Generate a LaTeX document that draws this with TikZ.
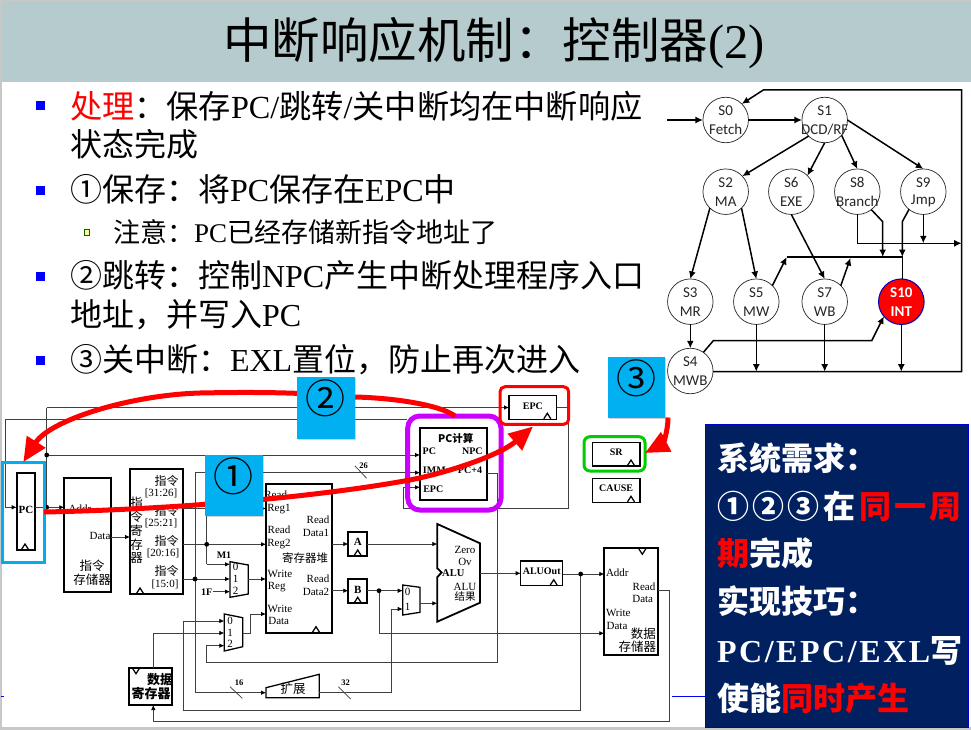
\documentclass[tikz,border=0pt]{standalone}
\usepackage{fontspec}
\setmainfont{Liberation Serif}
\newfontfamily\cjk{Noto Sans CJK SC}
\newfontfamily\calib{Carlito}
\usetikzlibrary{arrows.meta,fit,shadows}
\definecolor{hdr}{HTML}{B5CBCD}
\definecolor{frm}{HTML}{C8C8C8}
\definecolor{cyn}{HTML}{00B0F0}
\definecolor{ringcyan}{HTML}{00AEEF}
\definecolor{navy}{HTML}{002060}
\definecolor{purp}{HTML}{CC00FF}
\definecolor{wirec}{HTML}{404040}
\newcommand\zh[1]{{\cjk #1}}
\newcommand\fs[1]{\fontsize{#1}{#1}\selectfont}
\newcounter{lb}
\newcommand\dplab[4][]{\stepcounter{lb}\node[tx,#1] (lb\arabic{lb}) at (#2,#3) {#4};}
\newcommand\bx[7]{\node[#1,fit={(#3,#4)(#5,#6)}] (#2) {#7};}
\newcommand\stn[6][stlab]{\node[stc] (#2) at (#3,#4) {};\node[#1] (#2a) at ([yshift=9.5pt]#2.center) {#5};\node[#1] (#2b) at ([yshift=-9.5pt]#2.center) {#6};}
\newcommand\ckup[2]{\draw[ck,shift={(#1,#2)}] (-3.5,-.5) -- (0,-6) -- (3.5,-.5);}
\newcommand\ckdn[2]{\draw[ck,shift={(#1,#2)}] (-3.5,.5) -- (0,6) -- (3.5,.5);}
\newcommand\dotat[2]{\fill[black] (#1,#2) circle (2.4);}
\tikzset{
 tx/.style={inner sep=0,outer sep=0,align=center,font=\fs{11},text=black},
 bd/.style={tx,font=\fs{10}\bfseries},
 reg/.style={draw=black,line width=1.9pt,inner sep=0,outer sep=0,font=\fs{10}\bfseries,align=center},
 thinreg/.style={reg,line width=1.5pt},
 ghost/.style={inner sep=0,outer sep=0},
 wire/.style={draw=wirec,line width=.75pt},
 warr/.style={wire,-{Latex[length=5pt,width=4.5pt,color=black]}},
 ck/.style={draw=black,line width=1.25pt},
 line/.style={draw=black,line width=1.5pt},
 larr/.style={line,-{Latex[length=7.5pt,width=7pt]}},
 stc/.style={circle,draw=black!85,line width=.7pt,fill=white,minimum size=45.5pt,inner sep=0,outer sep=0},
 stlab/.style={inner sep=0,outer sep=0,font=\calib\fs{15},text=black!85},
 stlabw/.style={inner sep=0,outer sep=0,font=\calib\bfseries\fs{15},text=white},
 body/.style={anchor=base west,inner sep=0,outer sep=0,font=\cjk\fs{32},text=black},
 bul/.style={fill=blue,minimum size=9pt,inner sep=0,outer sep=0},
 pan/.style={anchor=base west,inner sep=0,outer sep=0,font=\cjk\bfseries\fs{32},text=white},
 cbox/.style={fill=cyn,inner sep=0,outer sep=0,font=\cjk\fs{40},text=black,drop shadow={shadow xshift=1pt,shadow yshift=-1pt,opacity=.35}},
 redarr/.style={draw=red,line width=5pt,-{Triangle[length=24pt,width=21pt]}},
 ring/.style={draw=#1,line width=3pt,rounded corners=6pt,inner sep=0,outer sep=0}
}
\begin{document}
\begin{tikzpicture}[x=1pt,y=-1pt]
\useasboundingbox (0,0) rectangle (971,730);
\fill[frm] (0,0) rectangle (971,730);
\fill[white] (1.5,1) rectangle (971,727);
\fill[hdr] (1.5,1) rectangle (971,82.5);
\node[anchor=base,inner sep=0,font=\fs{48.5}] (title) at (494,59) {\zh{中断响应机制：控制器}(2)};
% left text
\node[bul] (b1) at (40.5,105.5) {};
\node[bul] (b2) at (40.5,190.5) {};
\node[bul] (b3) at (40.5,276) {};
\node[bul] (b4) at (40.5,360) {};
\node[draw=black!60!green,fill=yellow!40,minimum size=5.5pt,inner sep=0,line width=.7pt] (b5) at (87,232.5) {};
\node[body,font=\cjk\fs{32.2}] (t1) at (70,119) {\textcolor{red}{处理}：保存{\rmfamily PC/}跳转{\rmfamily /}关中断均在中断响应};
\node[body] (t2) at (70,157) {状态完成};
\node[body] (t3) at (70,201) {①保存：将{\rmfamily PC}保存在{\rmfamily EPC}中};
\node[body,font=\cjk\fs{27}] (t4) at (113,242.5) {注意：{\rmfamily PC}已经存储新指令地址了};
\node[body] (t5) at (70,287) {②跳转：控制{\rmfamily NPC}产生中断处理程序入口};
\node[body] (t6) at (70,326) {地址，并写入{\rmfamily PC}};
\node[body] (t7) at (70,371) {③关中断：{\rmfamily EXL}置位，防止再次进入};
% datapath boxes
\bx{reg}{pc}{16.7}{472.7}{35.3}{550}{\raisebox{-3.4pt}{\fs{11}PC}}
\bx{reg}{im}{64.3}{478.3}{111}{591.7}{}
\bx{reg}{ir}{130}{469}{183.3}{594}{}
\bx{reg}{rf}{266}{484.3}{331.7}{632.7}{}
\bx{reg}{dr}{129.3}{667.7}{172}{705}{}
\bx{reg}{ra}{348.3}{531.7}{367.3}{556}{\raisebox{-3.6pt}{\fs{11}A}}
\bx{reg}{rb}{348.3}{579.3}{367.3}{603.3}{\raisebox{-3.6pt}{\fs{11}B}}
\bx{thinreg}{aluo}{520.7}{561}{562.7}{585.7}{\raisebox{-3.2pt}{ALUOut}}
\bx{reg}{dm}{604.3}{548.3}{658.3}{655}{}
\bx{reg}{pcc}{420}{428.3}{486.7}{500}{}
\bx{thinreg}{epc}{509}{395.7}{556.7}{419.3}{\raisebox{-3.2pt}{EPC}}
\bx{thinreg}{sr}{592.3}{442.3}{640}{466}{\raisebox{-2.8pt}{SR}}
\bx{thinreg}{cause}{592.3}{478.3}{640}{502.3}{\raisebox{-3pt}{CAUSE}}
\bx{ghost}{m1}{230}{561.7}{248.3}{597.3}{}
\bx{ghost}{m2}{224.3}{614}{242.7}{651}{}
\bx{ghost}{m3}{402.7}{585}{420}{615}{}
\bx{ghost}{alu}{437.3}{524}{480}{621.7}{}
\bx{ghost}{ext}{266}{674.3}{319.3}{697.7}{}
\draw[line width=1.3pt] (230,561.7)--(248.3,565)--(248.3,594)--(230,597.3)--cycle;
\draw[line width=1.3pt] (224.3,614)--(242.7,617.7)--(242.7,646.7)--(224.3,651)--cycle;
\draw[line width=1.3pt] (402.7,585)--(420,587.3)--(420,612.3)--(402.7,615)--cycle;
\draw[line width=1.8pt] (437.3,524)--(480,543.3)--(480,602.7)--(437.3,621.7)--(437.3,577)--(441.7,572.5)--(437.3,568.3)--cycle;
\draw[line width=1.3pt] (266,687.7)--(319.3,674.3)--(319.3,697.7)--(266,697.7)--cycle;
% clocks
\ckup{25}{550}\ckup{140}{594}\ckup{316}{632.7}\ckup{547.3}{419.3}\ckup{631}{466}\ckup{631}{502.3}
\ckup{357.7}{556}\ckup{357.7}{603.3}\ckup{553.7}{585.7}\ckdn{642.3}{548.3}\ckdn{136}{667.7}
% wires
\coordinate (ja) at (46.7,507.3);
\coordinate (jb) at (46.7,455);
\coordinate (jt) at (46.7,407.5);
\coordinate (jl) at (5.3,419.3);
\draw[wire] (pc.east |- ja) -- (ja);
\draw[warr] (ja) -- (im.west |- ja);
\draw[wire] (ja) -- (jt);
\draw[warr] (jt) -- (epc.west |- jt);
\draw[warr] (jb) -- (pcc.west |- jb);
\draw[warr] (jl) -- (jl |- ja) -- (pc.west |- ja);
\draw[warr] (im.east |- 0,537) -- (ir.west |- 0,537);
\coordinate (j195t) at (195,472.7);
\coordinate (j195b) at (195,692.7);
\coordinate (j207) at (206.7,544.3);
\draw[warr] (ir.east |- 0,508.5) -- (rf.west |- 0,508.5);
\draw[wire] (206.7,508.5) -- (206.7,564.3);
\draw[warr] (206.7,564.3) -- (m1.west |- 0,564.3);
\draw[warr] (ir.east |- j207) -- (rf.west |- j207);
\draw[warr] (ir.east |- 0,579) -- (m1.west |- 0,579);
\draw[warr] (213.3,591.7) -- (m1.west |- 0,591.7);
\draw[wire] (j195t) -- (j195b);
\draw[warr] (j195t) -- (pcc.west |- j195t);
\draw[warr] (j195b) -- (ext.west |- j195b);
\draw[warr] (m1.east |- 0,579) -- (rf.west |- 0,579);
\draw[warr] (m2.east |- 0,633) -- (250.7,633) -- (250.7,614) -- (rf.west |- 0,614);
\draw[warr] (183.3,710) -- (183.3,621) -- (m2.west |- 0,621);
\draw[wire] (183.3,710) -- (580.7,710) -- (580.7,574);
\draw[warr] (dr.north -| 153.3,0) -- (153.3,633) -- (m2.west |- 0,633);
\draw[warr] (pcc.east |- 0,473.3) -- (497.7,473.3) -- (497.7,662.7) -- (206.7,662.7) -- (206.7,645.7) -- (m2.west |- 0,645.7);
\draw[wire] (jl) -- (407,419.3);
\draw[warr] (epc.east |- 0,407.3) -- (568.7,407.3) -- (568.7,508) -- (403,508) -- (403,487.3) -- (pcc.west |- 0,487.3);
\draw[warr] (rf.east |- 0,544) -- (ra.west |- 0,544);
\draw[warr] (rf.east |- 0,590.7) -- (rb.west |- 0,590.7);
\draw[warr] (ra.east |- 0,544) -- (alu.west |- 0,544);
\draw[warr] (rb.east |- 0,590.7) -- (m3.west |- 0,590.7);
\draw[warr] (m3.east |- 0,603.3) -- (alu.west |- 0,603.3);
\draw[warr] (379,590.7) -- (379,633.3) -- (dm.west |- 0,633.3);
\draw[warr] (ext.east |- j195b) -- (391,692.7) -- (391,609) -- (m3.west |- 0,609);
\draw[warr] (alu.east |- 0,573.3) -- (aluo.west |- 0,573.3);
\draw[warr] (aluo.east |- 0,574) -- (dm.west |- 0,574);
\draw[wire] (dm.east |- 0,590.7) -- (669.3,590.7) -- (669.3,721.7) -- (153.3,721.7);
\draw[warr] (153.3,721.7) -- (dr.south -| 153.3,0);
\dotat{46.7}{507.3}\dotat{46.7}{455}\dotat{206.7}{544.3}\dotat{195}{579}\dotat{379}{590.7}\dotat{580.7}{574}
% slashes
\draw[wire] (355,466) -- (366.7,478.3);
\draw[wire] (230,686.7) -- (242.3,698.3);
\draw[wire] (338.3,686.7) -- (350.7,699);
% labels
\dplab[bd,font=\fs{8.5}\bfseries]{363.5}{466}{26}
\dplab[bd,font=\fs{8.5}\bfseries]{239}{683}{16}
\dplab[bd,font=\fs{8.5}\bfseries]{345.7}{683}{32}
\dplab{80}{509}{Addr}
\dplab{100}{535.7}{Data}
\dplab[font=\cjk\fs{12.5}]{92}{566}{指令}
\dplab[font=\cjk\fs{12.5}]{92}{580}{存储器}
\dplab[font=\cjk\fs{12}]{166.7}{480.7}{指令}
\dplab{161}{493}{[31:26]}
\dplab[font=\cjk\fs{12}]{166.7}{510.7}{指令}
\dplab{161}{523}{[25:21]}
\dplab[font=\cjk\fs{12}]{166.7}{540.7}{指令}
\dplab{163}{553}{[20:16]}
\dplab[font=\cjk\fs{12}]{166.7}{570.7}{指令}
\dplab{165}{584}{[15:0]}
\dplab[font=\cjk\fs{12.5}]{136.7}{502.7}{指}
\dplab[font=\cjk\fs{12.5}]{136.7}{517}{令}
\dplab[font=\cjk\fs{12.5}]{136.7}{531}{寄}
\dplab[font=\cjk\fs{12.5}]{136.7}{545}{存}
\dplab[font=\cjk\fs{12.5}]{136.7}{558.5}{器}
\dplab{275.7}{495}{Read}
\dplab{279}{509}{Reg1}
\dplab{279}{530}{Read}
\dplab{279}{543.7}{Reg2}
\dplab{280}{573.7}{Write}
\dplab{276.7}{586.7}{Reg}
\dplab{280}{608.7}{Write}
\dplab{278.7}{621.3}{Data}
\dplab{318}{520}{Read}
\dplab{316}{532.7}{Data1}
\dplab[font=\cjk\fs{11.5}]{305}{558}{寄存器堆}
\dplab{318}{579}{Read}
\dplab{316}{591.7}{Data2}
\dplab[bd,font=\fs{10}\bfseries]{224}{555}{M1}
\dplab[bd,font=\fs{10}\bfseries]{206.7}{591.7}{1F}
\dplab{235.7}{567.3}{0}
\dplab{235.7}{579.3}{1}
\dplab{235.7}{590.7}{2}
\dplab{230}{620.5}{0}
\dplab{230}{632.5}{1}
\dplab{230}{644}{2}
\dplab{407.7}{592.3}{0}
\dplab{407.7}{607.3}{1}
\dplab[font=\cjk\bfseries\fs{13}]{154}{679.5}{\hspace*{12pt}数据}
\dplab[font=\cjk\bfseries\fs{13}]{151}{694}{寄存器}
\dplab[font=\cjk\fs{12.5}]{293}{689}{扩展}
\dplab{465}{550}{Zero}
\dplab{465}{562.3}{Ov}
\dplab[bd,font=\fs{10.5}\bfseries]{453.3}{573.3}{ALU}
\dplab{465}{587.3}{ALU}
\dplab[font=\cjk\fs{10.5}]{465}{596.7}{结果}
\dplab{617.3}{572.3}{Addr}
\dplab{644}{586.7}{Read}
\dplab{642.7}{599.3}{Data}
\dplab{618.3}{613.3}{Write}
\dplab{617}{626}{Data}
\dplab[font=\cjk\fs{12.5}]{643.3}{633.3}{数据}
\dplab[font=\cjk\fs{12.5}]{637.3}{646.7}{存储器}
\dplab[bd,font=\cjk\bfseries\fs{10.5}]{455.7}{438.3}{PC计算}
\dplab[bd]{429.3}{451.7}{PC}
\dplab[bd]{472.3}{451.7}{NPC}
\dplab[bd]{434.3}{470.7}{IMM}
\dplab[bd]{470}{470.7}{PC+4}
\dplab[bd]{433.3}{489.3}{EPC}
% rings
\bx{ring=ringcyan,rounded corners=0pt}{pcring}{2.7}{462}{44}{562.7}{}
\bx{ring=purp,line width=5pt,rounded corners=12pt}{purple}{407.7}{416}{501}{510}{}
\bx{ring=red,rounded corners=5pt}{epcring}{500}{386.7}{568.7}{424.3}{}
\bx{ring=green!80!black}{srring}{584}{436.7}{645}{471}{}
% red arrows
\coordinate (r1a) at (533,426.5);
\coordinate (r1m) at (410,480);
\draw[redarr] (pcring.east |- 0,512) .. controls (150,510) and (300,500) .. (r1m) .. controls (450,472) and (500,455) .. (r1a);
\coordinate (r2m) at (355,397);
\coordinate (r2n) at (200,393);
\draw[redarr] (purple.north -| 455,0) .. controls (440,405) and (395,398) .. (r2m) .. controls (300,392) and (250,392) .. (r2n) .. controls (130,395) and (50,420) .. (pcring.north);
\coordinate (r3a) at (668,417.5);
\draw[redarr] (r3a) .. controls (668,433) and (662,444) .. (srring.east |- 0,453);
% cyan boxes
\bx{cbox}{c1}{205}{455}{262.7}{515.7}{\raisebox{-15pt}{①}}
\bx{cbox}{c2}{296.7}{377.3}{355}{439}{\raisebox{-15pt}{②}}
\bx{cbox}{c3}{608}{357}{665}{417.5}{\raisebox{-15pt}{③}}
% FSM
\stn{s0}{725.7}{120}{S0}{Fetch}
\stn{s1}{824.7}{120}{S1}{DCD/RF}
\stn{s2}{725.7}{191.7}{S2}{MA}
\stn{s6}{791.3}{191.7}{S6}{EXE}
\stn{s8}{857.3}{191.7}{S8}{Branch}
\stn{s9}{923.3}{191.7}{S9}{Jmp}
\stn{s3}{690.3}{301.7}{S3}{MR}
\stn{s5}{756.3}{301.7}{S5}{MW}
\stn{s7}{824.7}{301.7}{S7}{WB}
\node[stc,fill=red,draw=blue!70!black,line width=1pt,drop shadow={shadow xshift=.8pt,shadow yshift=-.8pt,opacity=.4}] (s10) at (901.3,301.7) {};
\node[stlabw] (s10a) at ([yshift=9.5pt]s10.center) {S10};
\node[stlabw] (s10b) at ([yshift=-9.5pt]s10.center) {INT};
\stn{s4}{690.3}{371}{S4}{MWB}
\coordinate (in) at (667.3,120);
\coordinate (rt) at (961.7,90);
\coordinate (rb) at (961.7,371.7);
\coordinate (tl) at (763.3,90);
\coordinate (bl) at (786.7,257);
\coordinate (br) at (902.3,257);
\coordinate (bm) at (850.5,258);
\coordinate (jr) at (961.7,243.3);
\coordinate (k8) at (882.7,221.7);
\coordinate (k9) at (902.3,221.7);
\coordinate (ka) at (713.3,340.7);
\coordinate (kb) at (871.7,340.7);
\draw[larr] (in) -- (s0);
\draw[larr] (s0) -- (s1);
\draw[larr] (s4.east |- rb) -- (rb) -- (rt) -- (tl) -- (s0.45);
\draw[larr] (s1.225) -- (s2.43);
\draw[larr] (s1.south) -- (s6.45);
\draw[larr] (s1.-42) -- (s8.north);
\draw[larr] (s1.east) -- (s9.north);
\draw[larr] (s2.-134) -- (s3.north);
\draw[larr] (s2.-46) -- (s5.north);
\draw[larr] (s6.south) -- (s7.north);
\draw[larr] (s3) -- (s4);
\draw[larr] (s8.south) -- (s8.south |- jr) -- (jr);
\draw[larr] (s8.-52) -- (k8) -- (k8 |- bl);
\draw[larr] (s9.-129) -- (k9) -- (br);
\draw[larr] (s9.south) -- (s9.south |- jr);
\draw[line] (bl) -- (br) -- (s10.north -| br);
\draw[larr] (s5.45) -- (bl);
\draw[larr] (s7.45) -- (bm);
\draw[larr] (s4.55) -- (ka) -- (kb) -- (s10.-140);
\draw[larr] (s5.south) -- (s5.south |- rb);
\draw[larr] (s7.south) -- (s7.south |- rb);
\draw[larr] (s10.south) -- (s10.south |- rb);
% blue bits
\draw[blue,line width=1pt] (1,696.7) -- (4,696.7);
\coordinate (bline) at (671.5,696.7);
% panel
\node[fill=navy,draw=blue!80!black,line width=.7pt,inner sep=0,outer sep=0,fit={(705,424.5)(968.7,727)}] (panel) {};
\draw[blue,line width=1pt] (bline) -- (panel.west |- bline);
\node[pan] (p1) at (717,470) {系统需求：};
\node[pan] (p2) at (717,518) {①\hspace{3.5pt}②\hspace{3.5pt}③\hspace{3.5pt}在\hspace{3.5pt}\textcolor{red}{同\hspace{3.5pt}一\hspace{3.5pt}周}};
\node[pan] (p3) at (717,565) {\textcolor{red}{期}完成};
\node[pan] (p4) at (717,613) {实现技巧：};
\node[pan] (p5) at (717,662) {{\rmfamily\addfontfeature{LetterSpace=8}PC/EPC/EXL}写};
\node[pan] (p6) at (717,710) {使能\textcolor{red}{同时产生}};
\end{tikzpicture}
\end{document}
